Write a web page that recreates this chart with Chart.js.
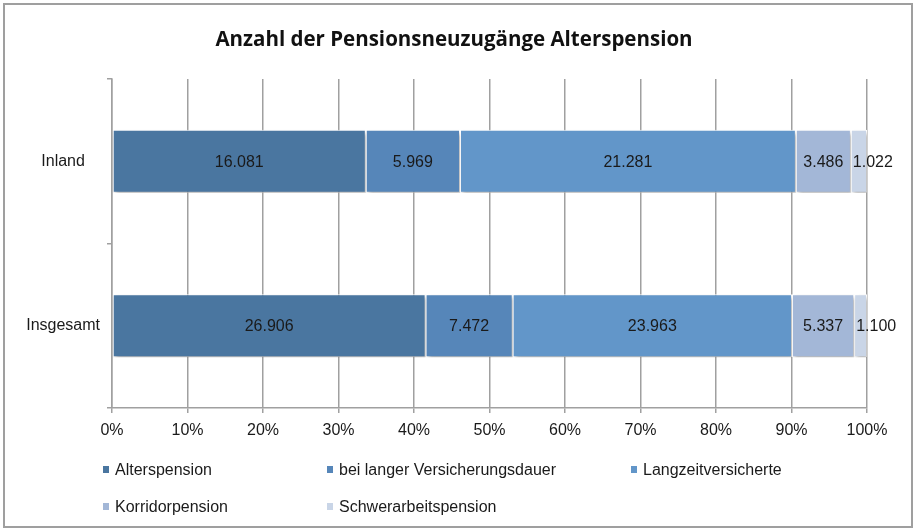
<!DOCTYPE html>
<html>
<head>
<meta charset="utf-8">
<script src="https://cdn.jsdelivr.net/npm/chart.js@4"></script>
<style>
  html, body { margin: 0; padding: 0; background: #fff; }
  #wrap { width: 917px; height: 531px; position: relative; }
</style>
</head>
<body>
<div id="wrap"><canvas id="chart" width="917" height="531"></canvas></div>
<script>
    // Data
    const categories = ['Inland', 'Insgesamt'];
    const seriesNames = ['Alterspension', 'bei langer Versicherungsdauer', 'Langzeitversicherte', 'Korridorpension', 'Schwerarbeitspension'];
    const alterspension = [16081, 26906];
    const langeVersicherung = [5969, 7472];
    const langzeitversicherte = [21281, 23963];
    const korridorpension = [3486, 5337];
    const schwerarbeit = [1022, 1100];
    const seriesColors = ['#4a76a0', '#5686b9', '#6296c9', '#a3b7d7', '#c9d5e7'];
    const tickValues = [0, 10, 20, 30, 40, 50, 60, 70, 80, 90, 100];

    const rawSeries = [alterspension, langeVersicherung, langzeitversicherte, korridorpension, schwerarbeit];

    // Totals per category, used to turn counts into 100% stacked shares
    const totals = categories.map((_, i) => rawSeries.reduce((sum, s) => sum + s[i], 0));

    function formatDE(n) {
        return String(n).replace(/\B(?=(\d{3})+(?!\d))/g, '.');
    }

    const datasets = rawSeries.map((values, idx) => ({
        label: seriesNames[idx],
        data: values.map((v, i) => v / totals[i] * 100),
        raw: values,
        backgroundColor: seriesColors[idx],
        borderColor: '#ffffff',
        borderWidth: 1,
        borderSkipped: false,
        categoryPercentage: 1,
        barPercentage: 0.383
    }));

    const textFont = '"Liberation Sans", Arial, sans-serif';

    // Frame, title and shadow behind the bars
    const framePlugin = {
        id: 'frame',
        beforeDraw(chart) {
            const ctx = chart.ctx;
            ctx.save();
            ctx.fillStyle = '#fff';
            ctx.fillRect(0, 0, chart.width, chart.height);
            ctx.strokeStyle = '#9f9f9f';
            ctx.lineWidth = 2;
            ctx.strokeRect(4, 4, 908, 523);
            ctx.fillStyle = '#111';
            ctx.font = 'bold 20.5px "Open Sans", Lato, sans-serif';
            ctx.textAlign = 'center';
            ctx.textBaseline = 'middle';
            ctx.fillText('Anzahl der Pensionsneuzugänge Alterspension', 454, 40);
            ctx.restore();
        },
        beforeDatasetDraw(chart) {
            const ctx = chart.ctx;
            ctx.save();
            ctx.shadowColor = 'rgba(0, 0, 0, 0.3)';
            ctx.shadowOffsetX = 2;
            ctx.shadowOffsetY = 3;
            ctx.shadowBlur = 4;
        },
        afterDatasetDraw(chart) {
            chart.ctx.restore();
        }
    };

    // Values inside the segments
    const valueLabels = {
        id: 'valueLabels',
        afterDatasetsDraw(chart) {
            const ctx = chart.ctx;
            ctx.save();
            ctx.font = '16px ' + textFont;
            ctx.fillStyle = '#1a1a1a';
            ctx.textBaseline = 'middle';
            chart.data.datasets.forEach((ds, di) => {
                const meta = chart.getDatasetMeta(di);
                meta.data.forEach((bar, i) => {
                    const text = formatDE(ds.raw[i]);
                    const w = ctx.measureText(text).width;
                    const segW = bar.x - bar.base;
                    if (w + 4 > segW) {
                        ctx.textAlign = 'left';
                        ctx.fillText(text, bar.base + 2, bar.y + 1);
                    } else {
                        ctx.textAlign = 'center';
                        ctx.fillText(text, (bar.x + bar.base) / 2, bar.y + 1);
                    }
                });
            });
            ctx.restore();
        }
    };

    // Legend in a three column grid below the axis
    const gridLegend = {
        id: 'gridLegend',
        afterDraw(chart) {
            const ctx = chart.ctx;
            const colX = [103, 327, 631];
            const rowY = [471, 508];
            ctx.save();
            ctx.font = '16px ' + textFont;
            ctx.textBaseline = 'middle';
            ctx.textAlign = 'left';
            chart.data.datasets.forEach((ds, i) => {
                const x = colX[i % 3];
                const y = rowY[Math.floor(i / 3)];
                ctx.fillStyle = ds.backgroundColor;
                ctx.fillRect(x, y - 5, 6, 7);
                ctx.fillStyle = '#1a1a1a';
                ctx.fillText(ds.label, x + 12, y);
            });
            ctx.restore();
        }
    };

    new Chart(document.getElementById('chart'), {
        type: 'bar',
        data: { labels: categories, datasets: datasets },
        options: {
            indexAxis: 'y',
            responsive: false,
            animation: false,
            layout: { padding: { top: 79, right: 50, bottom: 83, left: 0 } },
            plugins: {
                legend: { display: false },
                title: { display: false },
                tooltip: { enabled: false }
            },
            scales: {
                x: {
                    stacked: true,
                    min: 0,
                    max: 100,
                    afterFit(scale) { scale.height = 40; },
                    afterBuildTicks(scale) { scale.ticks = tickValues.map(v => ({ value: v })); },
                    grid: { color: '#a0a0a0', lineWidth: 1.5, tickLength: 5 },
                    border: { color: '#a0a0a0', width: 1.5 },
                    ticks: {
                        padding: 8,
                        color: '#1a1a1a',
                        font: { family: textFont, size: 16 },
                        callback: v => v + '%'
                    }
                },
                y: {
                    stacked: true,
                    afterFit(scale) { scale.width = 112; },
                    grid: { offset: true, drawOnChartArea: false, color: '#a0a0a0', lineWidth: 1.5, tickLength: 5 },
                    border: { color: '#a0a0a0', width: 1.5 },
                    ticks: {
                        padding: 7,
                        crossAlign: 'center',
                        color: '#1a1a1a',
                        font: { family: textFont, size: 16 }
                    }
                }
            }
        },
        plugins: [framePlugin, valueLabels, gridLegend]
    });
</script>
</body>
</html>
